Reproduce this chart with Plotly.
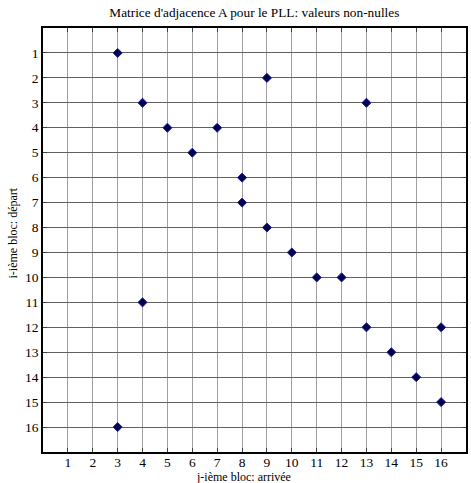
import plotly.graph_objects as go

cols = [3, 9, 4, 13, 5, 7, 6, 8, 8, 9, 10, 11, 12, 4, 13, 16, 14, 15, 16, 3]
rows = [1, 2, 3, 3, 4, 4, 5, 6, 7, 8, 9, 10, 10, 11, 12, 12, 13, 14, 15, 16]
ticks = list(range(1, 17))

fig = go.Figure()
fig.add_trace(go.Scatter(
    x=cols, y=rows, mode="markers",
    marker=dict(symbol="diamond", size=7, color="#00004d",
                line=dict(color="#2020a0", width=1)),
    showlegend=False, cliponaxis=False))

F = "Liberation Serif"
fig.update_layout(
    width=471, height=483,
    margin=dict(l=43, r=5, t=28, b=31),
    paper_bgcolor="white", plot_bgcolor="white",
    font=dict(family=F, size=14, color="black"),
    title=dict(text="Matrice d'adjacence A pour le PLL: valeurs non-nulles",
               x=0.54, xanchor="center", y=0.975, yanchor="middle",
               font=dict(family=F, size=13.3)),
    xaxis=dict(range=[0, 17], tickvals=ticks, ticktext=[str(t) for t in ticks],
               automargin=False,
               showgrid=True, gridcolor="#a0a0a0", gridwidth=1,
               zeroline=False, showline=True, linecolor="black", linewidth=1.5,
               mirror="ticks", ticks="inside", ticklen=4, tickcolor="#404040",
               ticklabelstandoff=-3,
               tickfont=dict(family=F, size=13.5)),
    yaxis=dict(range=[17, 0], tickvals=ticks, ticktext=[str(t) for t in ticks],
               automargin=False,
               showgrid=True, gridcolor="#606060", gridwidth=1,
               zeroline=False, showline=True, linecolor="black", linewidth=1.5,
               mirror="ticks", ticks="inside", ticklen=4, tickcolor="#404040",
               tickfont=dict(family=F, size=13.5)),
    annotations=[
        dict(text="j-ième bloc: arrivée", xref="paper", yref="paper",
             x=(243 - 43) / 423, y=-(477 - 452) / 424, xanchor="center", yanchor="middle",
             showarrow=False, font=dict(family=F, size=12)),
        dict(text="i-ième bloc: départ", xref="paper", yref="paper",
             x=-(43 - 12.5) / 423, y=(452 - 233) / 424, xanchor="center", yanchor="middle",
             textangle=-90, showarrow=False, font=dict(family=F, size=12)),
    ],
)
fig.write_html("out.html")
